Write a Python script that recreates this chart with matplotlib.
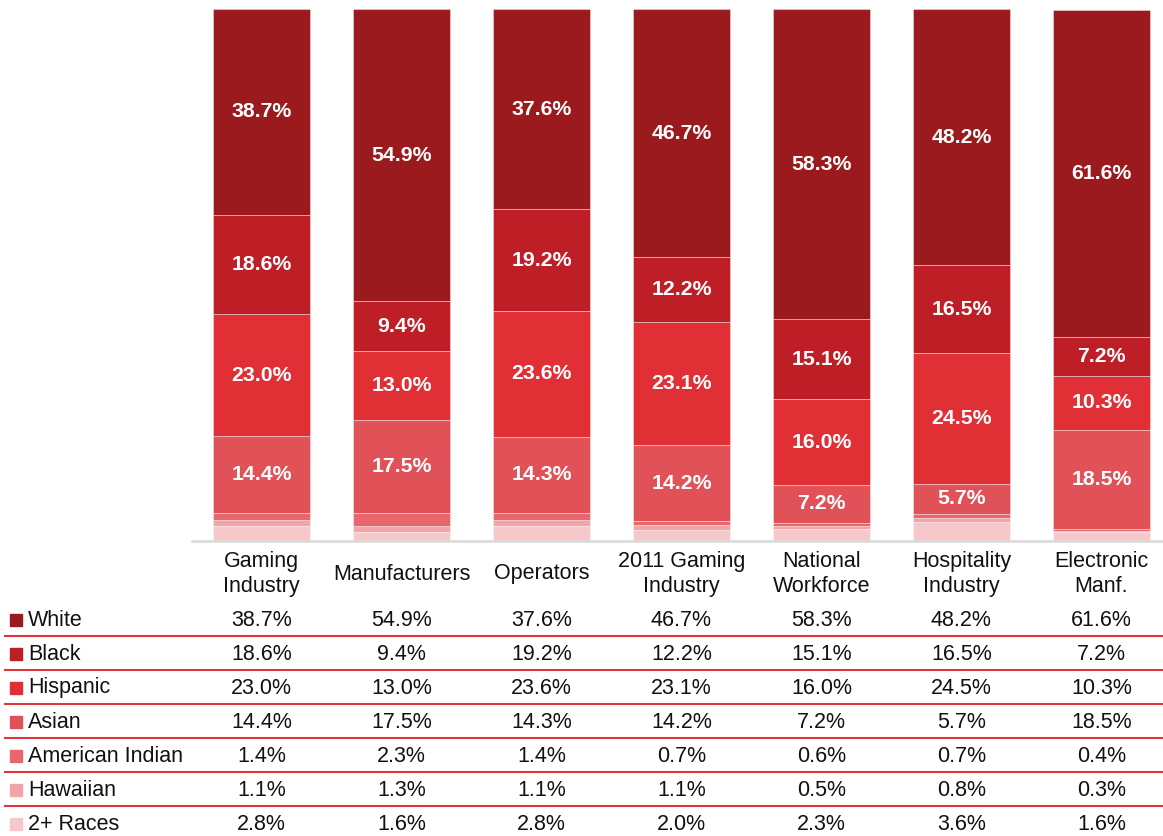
import matplotlib
matplotlib.use("Agg")
import matplotlib.pyplot as plt
import matplotlib.transforms as mtransforms
import numpy as np

plt.rcParams["font.family"] = ["Liberation Sans", "DejaVu Sans"]

categories = ["Gaming\nIndustry", "Manufacturers", "Operators", "2011 Gaming\nIndustry",
              "National\nWorkforce", "Hospitality\nIndustry", "Electronic\nManf."]
groups = ["White", "Black", "Hispanic", "Asian", "American Indian", "Hawaiian", "2+ Races"]
white = [38.7, 54.9, 37.6, 46.7, 58.3, 48.2, 61.6]
black = [18.6, 9.4, 19.2, 12.2, 15.1, 16.5, 7.2]
hispanic = [23.0, 13.0, 23.6, 23.1, 16.0, 24.5, 10.3]
asian = [14.4, 17.5, 14.3, 14.2, 7.2, 5.7, 18.5]
american_indian = [1.4, 2.3, 1.4, 0.7, 0.6, 0.7, 0.4]
hawaiian = [1.1, 1.3, 1.1, 1.1, 0.5, 0.8, 0.3]
two_plus = [2.8, 1.6, 2.8, 2.0, 2.3, 3.6, 1.6]

series = [white, black, hispanic, asian, american_indian, hawaiian, two_plus]
colours = ["#9B1A1E", "#BE1E25", "#E02F35", "#E15258", "#E8666C", "#F0A6A9", "#F6C8CA"]

W, H = 1163, 836
fig = plt.figure(figsize=(W / 100, H / 100), dpi=100)
ax = fig.add_axes([192 / W, 1 - 541 / H, 1 - 192 / W, (541 - 9) / H])

x = np.arange(len(categories))
# stack from the bottom: 2+ Races first, White on top
bottom = np.zeros(len(categories))
for vals, col in zip(series[::-1], colours[::-1]):
    ax.bar(x, vals, 0.69, bottom=bottom, color=col, edgecolor=(1, 1, 1, 0.45), linewidth=0.6)
    bottom += np.array(vals)

# labels on the four big segments
bottom = np.array(two_plus) + np.array(hawaiian) + np.array(american_indian)
for vals in [asian, hispanic, black, white]:
    for i, v in enumerate(vals):
        ax.text(x[i], bottom[i] + v / 2, f"{v:.1f}%", ha="center", va="center",
                color="white", fontsize=15.3, fontweight="bold")
    bottom += np.array(vals)

ax.set_xlim(-0.497, 6.44)
ax.set_ylim(0, 100)
ax.set_yticks([])
ax.set_xticks([])
for s in ["top", "right", "left"]:
    ax.spines[s].set_visible(False)
ax.spines["bottom"].set_color("#D9D9D9")
ax.spines["bottom"].set_linewidth(1.8)

trans = mtransforms.blended_transform_factory(ax.transData, fig.transFigure)

# category names, vertically centred under the bars
for i, name in enumerate(categories):
    ax.text(x[i], 1 - 574 / H, name, ha="center", va="center", fontsize=15.5,
            linespacing=1.2, color="#111111", transform=trans)

# data table under the chart
row_y = [620, 654, 688, 722, 756, 790, 824]
for r, (name, vals, col) in enumerate(zip(groups, series, colours)):
    yf = 1 - row_y[r] / H
    fig.patches.append(plt.Rectangle((10 / W, yf - 6 / H), 12 / W, 12 / H, color=col,
                                     transform=fig.transFigure, figure=fig))
    fig.text(28 / W, yf, name, ha="left", va="center", fontsize=15.5, color="#111111")
    for i, v in enumerate(vals):
        fig.text(x[i], yf, f"{v:.1f}%", ha="center", va="center", fontsize=15.5,
                 color="#111111", transform=trans)
    if r < len(groups) - 1:
        ly = 1 - (row_y[r] + 16) / H
        fig.lines.append(plt.Line2D([5 / W, 1], [ly, ly], color="#E0353B", linewidth=1.5,
                                    transform=fig.transFigure, figure=fig))

fig.savefig("out.png", dpi=100)
